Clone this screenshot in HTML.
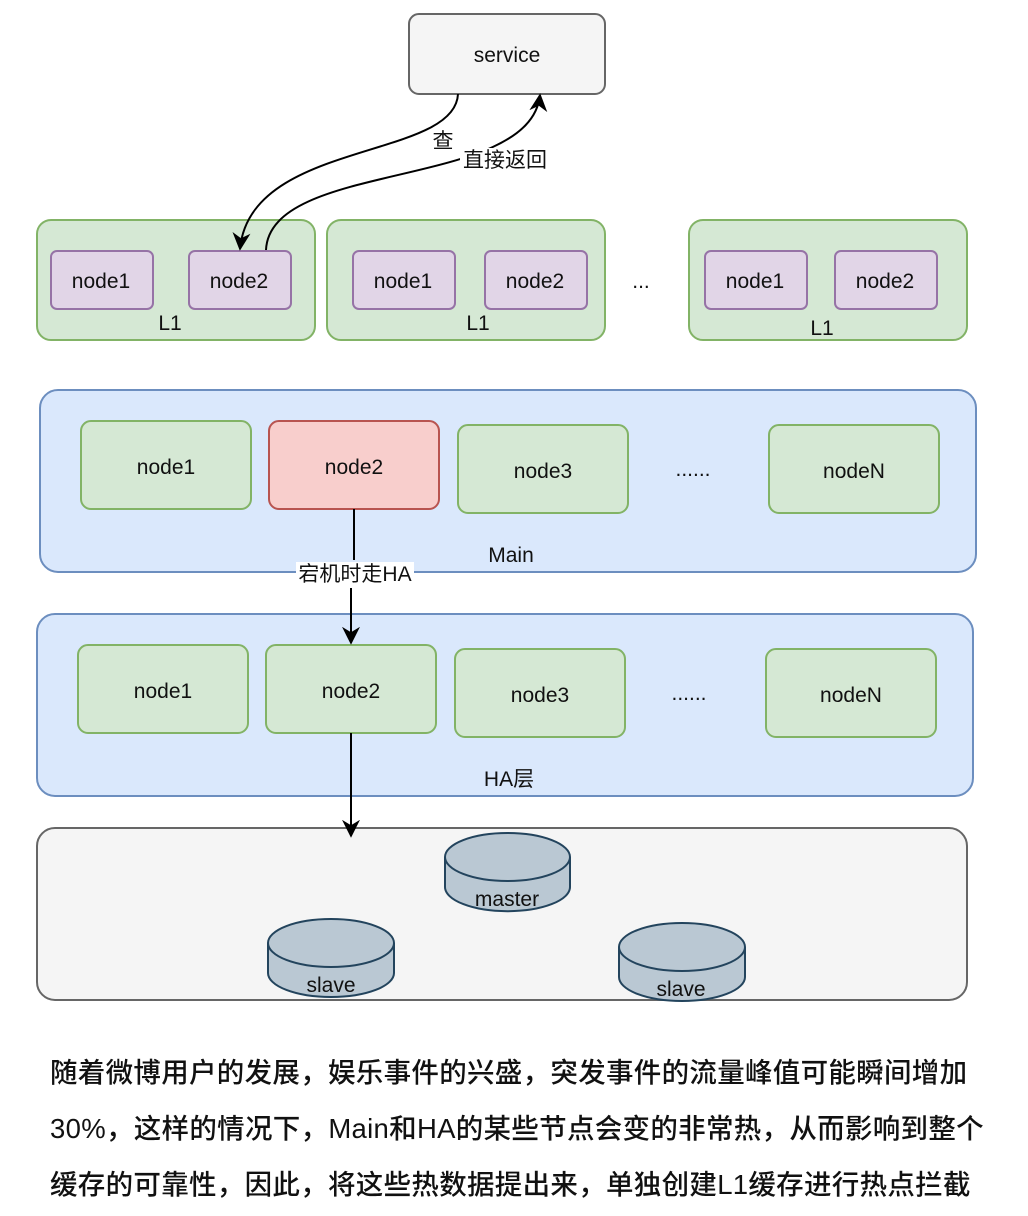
<!DOCTYPE html>
<html><head><meta charset="utf-8"><style>
body{margin:0;background:#fff;}
svg text{font-family:"Liberation Sans","Noto Sans CJK SC",sans-serif;}
.t{font-family:"Liberation Sans","Noto Sans CJK SC",sans-serif;position:absolute;left:50px;font-size:27.5px;color:#111;white-space:nowrap;font-weight:500;letter-spacing:0.3px;}
</style></head><body>
<div style="position:relative;width:1028px;height:1216px;overflow:hidden">
<svg width="1028" height="1216" style="position:absolute;left:0;top:0">
<defs><marker id="a" markerWidth="18" markerHeight="18" refX="9" refY="5" orient="auto" markerUnits="userSpaceOnUse" viewBox="0 0 10 10"><path d="M0,0 L10,5 L0,10 L3,5 Z" fill="#000"/></marker></defs>
<g font-size="21" text-anchor="middle" fill="#111">
<rect x="409" y="14" width="196" height="80" rx="10" fill="#f5f5f5" stroke="#666" stroke-width="2"/>
<text x="507" y="62">service</text>
<g fill="#d5e8d4" stroke="#82b366" stroke-width="2">
<rect x="37" y="220" width="278" height="120" rx="14"/>
<rect x="327" y="220" width="278" height="120" rx="14"/>
<rect x="689" y="220" width="278" height="120" rx="14"/>
</g>
<g fill="#e1d5e7" stroke="#9673a6" stroke-width="2">
<rect x="51" y="251" width="102" height="58" rx="6"/>
<rect x="189" y="251" width="102" height="58" rx="6"/>
<rect x="353" y="251" width="102" height="58" rx="6"/>
<rect x="485" y="251" width="102" height="58" rx="6"/>
<rect x="705" y="251" width="102" height="58" rx="6"/>
<rect x="835" y="251" width="102" height="58" rx="6"/>
</g>
<text x="101" y="288">node1</text><text x="239" y="288">node2</text>
<text x="403" y="288">node1</text><text x="535" y="288">node2</text>
<text x="755" y="288">node1</text><text x="885" y="288">node2</text>
<text x="170" y="330">L1</text><text x="478" y="330">L1</text><text x="822" y="335">L1</text>
<text x="641" y="288">...</text>

<rect x="40" y="390" width="936" height="182" rx="18" fill="#dae8fc" stroke="#6c8ebf" stroke-width="2"/>
<rect x="37" y="614" width="936" height="182" rx="18" fill="#dae8fc" stroke="#6c8ebf" stroke-width="2"/>
<g fill="#d5e8d4" stroke="#82b366" stroke-width="2">
<rect x="81" y="421" width="170" height="88" rx="10"/>
<rect x="458" y="425" width="170" height="88" rx="10"/>
<rect x="769" y="425" width="170" height="88" rx="10"/>
<rect x="78" y="645" width="170" height="88" rx="10"/>
<rect x="266" y="645" width="170" height="88" rx="10"/>
<rect x="455" y="649" width="170" height="88" rx="10"/>
<rect x="766" y="649" width="170" height="88" rx="10"/>
</g>
<rect x="269" y="421" width="170" height="88" rx="10" fill="#f8cecc" stroke="#b85450" stroke-width="2"/>
<text x="166" y="474">node1</text><text x="354" y="474">node2</text><text x="543" y="478">node3</text><text x="693" y="476">......</text><text x="854" y="478">nodeN</text>
<text x="511" y="562">Main</text>
<text x="163" y="698">node1</text><text x="351" y="698">node2</text><text x="540" y="702">node3</text><text x="689" y="700">......</text><text x="851" y="702">nodeN</text>
<text x="509" y="786">HA层</text>

<rect x="37" y="828" width="930" height="172" rx="18" fill="#f5f5f5" stroke="#666" stroke-width="2"/>
<g fill="#bac8d3" stroke="#23445d" stroke-width="2">
<path d="M445,857 v30 a62,24 0 0 0 125,0 v-30"/><ellipse cx="507.5" cy="857" rx="62.5" ry="24"/>
<path d="M268,943 v30 a63,24 0 0 0 126,0 v-30"/><ellipse cx="331" cy="943" rx="63" ry="24"/>
<path d="M619,947 v30 a63,24 0 0 0 126,0 v-30"/><ellipse cx="682" cy="947" rx="63" ry="24"/>
</g>
<text x="507" y="906">master</text><text x="331" y="992">slave</text><text x="681" y="996">slave</text>

<g fill="none" stroke="#000" stroke-width="2">
<path d="M458,94 C455,160 250,140 240,249" marker-end="url(#a)"/>
<path d="M266,250 C270,160 530,190 540,95" marker-end="url(#a)"/>
<path d="M354,509 L354,560 M351,588 L351,643" marker-end="url(#a)"/>
<path d="M351,733 L351,836" marker-end="url(#a)"/>
</g>
<rect x="432" y="128" width="22" height="24" fill="#fff"/>
<text x="443" y="148">查</text>
<rect x="460" y="148" width="90" height="24" fill="#fff"/>
<text x="505" y="167">直接返回</text>
<rect x="296" y="562" width="118" height="24" fill="#fff"/>
<text x="355" y="581">宕机时走HA</text>
</g>
</svg>
<div class="t" style="top:1050px">随着微博用户的发展，娱乐事件的兴盛，突发事件的流量峰值可能瞬间增加</div>
<div class="t" style="top:1106px">30%，这样的情况下，Main和HA的某些节点会变的非常热，从而影响到整个</div>
<div class="t" style="top:1162px">缓存的可靠性，因此，将这些热数据提出来，单独创建L1缓存进行热点拦截</div>
</div>
</body></html>
